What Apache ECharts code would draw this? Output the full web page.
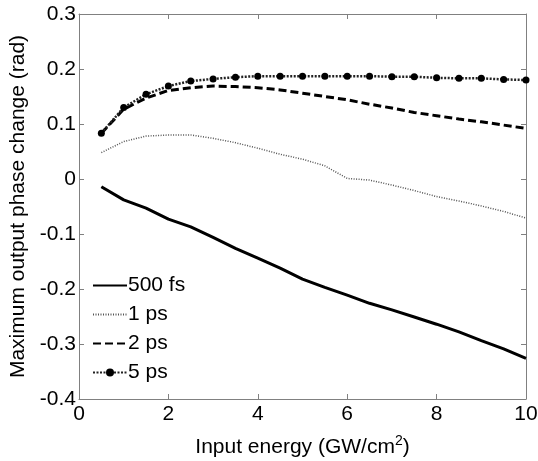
<!DOCTYPE html>
<html><head><meta charset="utf-8">
<script src="https://cdn.jsdelivr.net/npm/echarts@6/dist/echarts.min.js"></script>
<style>html,body{margin:0;padding:0;background:#fff}#c{width:538px;height:461px}</style>
</head><body><div id="c"></div>
<script>
const energy = [0.5,1,1.5,2,2.5,3,3.5,4,4.5,5,5.5,6,6.5,7,7.5,8,8.5,9,9.5,10];
const fs500 = [-0.014,-0.038,-0.053,-0.073,-0.087,-0.106,-0.126,-0.144,-0.162,-0.182,-0.197,-0.211,-0.226,-0.238,-0.251,-0.264,-0.278,-0.294,-0.309,-0.326];
const ps1 = [0.048,0.068,0.078,0.080,0.080,0.074,0.066,0.056,0.045,0.036,0.024,0.001,-0.002,-0.011,-0.021,-0.032,-0.040,-0.049,-0.059,-0.071];
const ps2 = [0.083,0.127,0.147,0.161,0.166,0.169,0.168,0.166,0.162,0.156,0.150,0.144,0.136,0.129,0.121,0.115,0.109,0.104,0.098,0.092];
const ps5 = [0.083,0.130,0.154,0.169,0.178,0.182,0.185,0.187,0.187,0.187,0.187,0.187,0.187,0.186,0.186,0.184,0.183,0.183,0.181,0.180];
const names = ['500 fs','1 ps','2 ps','5 ps'];
const xTicks = [0,2,4,6,8,10];
const yTicks = [-0.4,-0.3,-0.2,-0.1,0,0.1,0.2,0.3];

const pair = a => energy.map((x,i)=>[x,a[i]]);
const font = 'Liberation Sans, Arial, sans-serif';
const FS = 21;
const axisLineStyle = {color:'#808080', width:1};
const chart = echarts.init(document.getElementById('c'));
const fmtY = v => { const r = Math.round(v*10)/10; return r===0 ? '0' : String(r); };
const baseAxis = {
  axisLine:{show:true,onZero:false,lineStyle:axisLineStyle},
  axisTick:{show:true,inside:true,length:5,lineStyle:axisLineStyle},
  splitLine:{show:false}
};
chart.setOption({
  animation:false,
  backgroundColor:'#fff',
  grid:{left:79, right:12, top:14, bottom:62, containLabel:false, outerBoundsMode:'none'},
  xAxis:[Object.assign({
    type:'value', min:xTicks[0], max:xTicks[xTicks.length-1], interval:2,
    name:'{a|Input energy (GW/cm}{s|2}{a|)}', nameLocation:'middle', nameGap:35,
    nameTextStyle:{rich:{a:{fontSize:FS,fontFamily:font,color:'#000'},s:{fontSize:14,fontFamily:font,color:'#000',verticalAlign:'top',padding:[0,0,12,0]}}},
    axisLabel:{fontSize:FS,fontFamily:font,color:'#000',margin:5}
  },baseAxis),Object.assign({
    type:'value', min:0, max:10, interval:2, position:'top', axisLabel:{show:false}
  },baseAxis)],
  yAxis:[Object.assign({
    type:'value', min:yTicks[0], max:yTicks[yTicks.length-1], interval:0.1,
    name:'Maximum output phase change (rad)', nameLocation:'middle', nameGap:49,
    nameTextStyle:{fontSize:FS,fontFamily:font,color:'#000'},
    axisLabel:{fontSize:FS,fontFamily:font,color:'#000',margin:3,formatter:fmtY}
  },baseAxis),Object.assign({
    type:'value', min:-0.4, max:0.3, interval:0.1, position:'right', axisLabel:{show:false}
  },baseAxis)],
  legend:{
    orient:'vertical', left:87, top:270, itemWidth:34, itemHeight:10, itemGap:8,
    textStyle:{fontSize:FS,fontFamily:font,color:'#000',padding:[0,0,0,-4]},
    data:[
      {name:names[0], itemStyle:{opacity:0}},
      {name:names[1], itemStyle:{opacity:0}},
      {name:names[2], itemStyle:{opacity:0}},
      {name:names[3]}
    ]
  },
  series:[
    {name:names[0], type:'line', data:pair(fs500), symbol:'none', color:'#000', lineStyle:{color:'#000',width:3}},
    {name:names[1], type:'line', data:pair(ps1), symbol:'none', color:'#555', lineStyle:{color:'#555',width:1.5,type:[1,1.5]}},
    {name:names[2], type:'line', data:pair(ps2), symbol:'none', color:'#000', lineStyle:{color:'#000',width:3,type:[8,4]}},
    {name:names[3], type:'line', data:pair(ps5), symbol:'circle', symbolSize:7, color:'#000', itemStyle:{color:'#000'}, lineStyle:{color:'#222',width:2.5,type:[2,1.5]}}
  ]
});
</script></body></html>
